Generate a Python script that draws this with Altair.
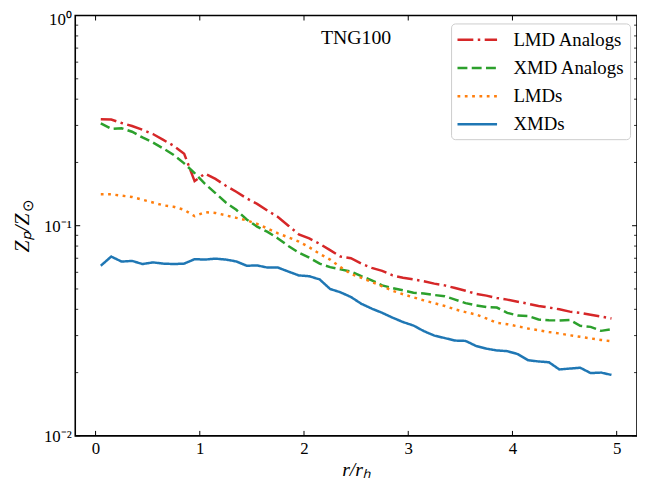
import altair as alt
import pandas as pd

r = [0.05, 0.15, 0.25, 0.35, 0.45, 0.55, 0.65, 0.75, 0.85, 0.95,
     1.05, 1.15, 1.25, 1.35, 1.45, 1.55, 1.65, 1.75, 1.85, 1.95,
     2.05, 2.15, 2.25, 2.35, 2.45, 2.55, 2.65, 2.75, 2.85, 2.95,
     3.05, 3.15, 3.25, 3.35, 3.45, 3.55, 3.65, 3.75, 3.85, 3.95,
     4.05, 4.15, 4.25, 4.35, 4.45, 4.55, 4.65, 4.75, 4.85, 4.95]

lmd_analogs = [0.321, 0.320, 0.308, 0.298, 0.286, 0.273, 0.256, 0.240, 0.220, 0.163,
               0.177, 0.167, 0.155, 0.145, 0.135, 0.127, 0.118, 0.110, 0.100, 0.091,
               0.087, 0.082, 0.0765, 0.0713, 0.070, 0.066, 0.063, 0.061, 0.058, 0.0565,
               0.0555, 0.0544, 0.053, 0.052, 0.0505, 0.049, 0.0474, 0.0465, 0.0453, 0.0445,
               0.0435, 0.0425, 0.0415, 0.0408, 0.040, 0.039, 0.0385, 0.0377, 0.037, 0.0362]

xmd_analogs = [0.307, 0.289, 0.291, 0.280, 0.263, 0.249, 0.233, 0.217, 0.198, 0.178,
               0.158, 0.143, 0.129, 0.119, 0.107, 0.099, 0.0935, 0.087, 0.080, 0.0745,
               0.0705, 0.066, 0.0635, 0.062, 0.0605, 0.0575, 0.055, 0.052, 0.0505, 0.0493,
               0.048, 0.0476, 0.0468, 0.0462, 0.0445, 0.0428, 0.0418, 0.041, 0.0408, 0.0385,
               0.0374, 0.0372, 0.0358, 0.0355, 0.0354, 0.0356, 0.0334, 0.0330, 0.0316, 0.0322]

lmds = [0.141, 0.141, 0.139, 0.137, 0.133, 0.129, 0.125, 0.123, 0.119, 0.111,
        0.116, 0.115, 0.112, 0.109, 0.106, 0.102, 0.097, 0.092, 0.088, 0.084,
        0.079, 0.0735, 0.069, 0.0635, 0.059, 0.0565, 0.054, 0.0515, 0.049, 0.0472,
        0.0456, 0.0441, 0.0428, 0.0415, 0.040, 0.0388, 0.0378, 0.0362, 0.0345, 0.034,
        0.0332, 0.0324, 0.0318, 0.0312, 0.0307, 0.0301, 0.0296, 0.0291, 0.0286, 0.0282]

xmds = [0.0645, 0.0713, 0.0675, 0.068, 0.0657, 0.0669, 0.066, 0.0657, 0.066, 0.0693,
        0.069, 0.0697, 0.069, 0.0676, 0.0645, 0.0647, 0.0632, 0.0632, 0.0605, 0.058,
        0.0575, 0.0555, 0.050, 0.0482, 0.0458, 0.0425, 0.0403, 0.0385, 0.0365, 0.0348,
        0.0335, 0.0315, 0.030, 0.0292, 0.0284, 0.0283, 0.0268, 0.026, 0.0255, 0.0253,
        0.0245, 0.0229, 0.0226, 0.0224, 0.0207, 0.0209, 0.0211, 0.0199, 0.020, 0.0195]

names = ["LMD Analogs", "XMD Analogs", "LMDs", "XMDs"]
colors = ["#d62728", "#2ca02c", "#ff7f0e", "#1f77b4"]
dashes = [[16, 4.5, 2.5, 4.5], [10, 4.4], [2.8, 4.6], [1, 0]]

x_ticks = [0, 1, 2, 3, 4, 5]
y_major = [0.01, 0.1, 1]
y_minor = [0.02, 0.03, 0.04, 0.05, 0.06, 0.07, 0.08, 0.09,
           0.2, 0.3, 0.4, 0.5, 0.6, 0.7, 0.8, 0.9]

rows = []
for name, vals in zip(names, [lmd_analogs, xmd_analogs, lmds, xmds]):
    for rv, zv in zip(r, vals):
        rows.append({"r": rv, "z": zv, "series": name})
df = pd.DataFrame(rows)

W, H = 568, 425
FONT = "Liberation Serif"

xscale = alt.Scale(domain=[-0.195, 5.195], nice=False, zero=False)
yscale = alt.Scale(type="log", domain=[0.01, 1], nice=False)

lines = alt.Chart(df).mark_line(strokeWidth=2.5, clip=True).encode(
    x=alt.X("r:Q", scale=xscale,
            axis=alt.Axis(values=x_ticks, format="d", title="r/rₕ", labelPadding=5,
                          titlePadding=3, titleFontStyle="italic")),
    y=alt.Y("z:Q", scale=yscale,
            axis=alt.Axis(values=y_major, title=None, labelPadding=4,
                          labelOffset={"condition": {"test": "datum.value >= 0.5", "value": 4},
                                       "value": 1},
                          labelExpr="datum.value >= 0.5 ? '10⁰' : (datum.value >= 0.05 ? '10⁻¹' : '10⁻²')")),
    color=alt.Color("series:N", scale=alt.Scale(domain=names, range=colors),
                    legend=alt.Legend(title=None)),
    strokeDash=alt.StrokeDash("series:N", scale=alt.Scale(domain=names, range=dashes),
                              legend=alt.Legend(title=None)),
)

xt_df = pd.DataFrame({"r": x_ticks})
bottom_ticks = alt.Chart(xt_df).mark_rule(color="black", strokeWidth=1).encode(
    x=alt.X("r:Q"), y=alt.value(H), y2=alt.value(H - 5))
top_ticks = alt.Chart(xt_df).mark_rule(color="black", strokeWidth=1).encode(
    x=alt.X("r:Q"), y=alt.value(0), y2=alt.value(5))

ymaj_df = pd.DataFrame({"z": y_major})
ymin_df = pd.DataFrame({"z": y_minor})
left_major = alt.Chart(ymaj_df).mark_rule(color="black", strokeWidth=1).encode(
    y=alt.Y("z:Q"), x=alt.value(0), x2=alt.value(5))
right_major = alt.Chart(ymaj_df).mark_rule(color="black", strokeWidth=1).encode(
    y=alt.Y("z:Q"), x=alt.value(W - 5), x2=alt.value(W))
left_minor = alt.Chart(ymin_df).mark_rule(color="black", strokeWidth=0.8).encode(
    y=alt.Y("z:Q"), x=alt.value(0), x2=alt.value(3))
right_minor = alt.Chart(ymin_df).mark_rule(color="black", strokeWidth=0.8).encode(
    y=alt.Y("z:Q"), x=alt.value(W - 3), x2=alt.value(W))

label_df = pd.DataFrame({"t": ["TNG100"]})
tng = alt.Chart(label_df).mark_text(font=FONT, fontSize=20, color="black",
                                    align="center", baseline="alphabetic").encode(
    text="t:N", x=alt.value(W / 2), y=alt.value(29))

ytitle_main = alt.Chart(pd.DataFrame({"t": ["Zₚ/Z"]})).mark_text(
    font=FONT, fontSize=22, fontStyle="italic", color="black", angle=270,
    align="right", baseline="alphabetic").encode(
    text="t:N", x=alt.value(-47), y=alt.value(200))
ytitle_sun = alt.Chart(pd.DataFrame({"t": ["⊙"]})).mark_text(
    font=FONT, fontSize=15, color="black", angle=270,
    align="left", baseline="alphabetic").encode(
    text="t:N", x=alt.value(-43), y=alt.value(199))

chart = alt.layer(
    lines, bottom_ticks, top_ticks, left_major, right_major, left_minor, right_minor,
    tng, ytitle_main, ytitle_sun
).properties(
    width=W, height=H,
    autosize=alt.AutoSizeParams(type="none"),
    padding={"left": 68, "top": 5, "right": 0, "bottom": 42},
).configure_view(
    stroke="black", strokeWidth=1.6
).configure_axis(
    domain=False, ticks=False, grid=False,
    labelFont=FONT, labelFontSize=17, labelColor="black",
    titleFont=FONT, titleFontSize=20, titleFontWeight="normal", titleColor="black",
).configure_legend(
    orient="none", legendX=380, legendY=8,
    symbolType="M-2,0H2", symbolSize=400, symbolStrokeWidth=2.5, symbolOffset=10,
    labelFont=FONT, labelFontSize=19, labelColor="black", labelOffset=25,
    padding=5, rowPadding=6.5, cornerRadius=4,
    strokeColor="#cccccc", fillColor="white",
)

chart.save("out.html", embed_options={"renderer": "svg", "actions": False})
